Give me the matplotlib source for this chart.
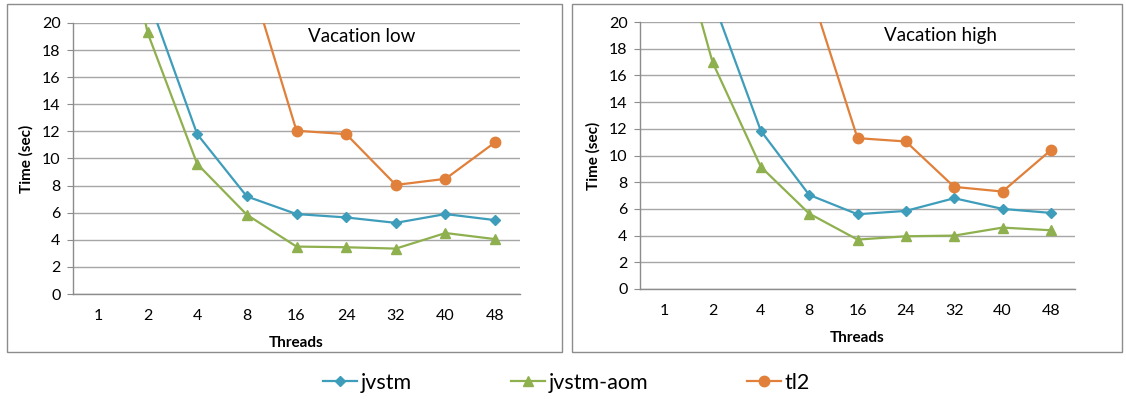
import numpy as np
import matplotlib
matplotlib.use('Agg')
import matplotlib.pyplot as plt
from matplotlib.patches import Rectangle

plt.rcParams['font.family'] = ['Lato', 'DejaVu Sans']

threads = ['1', '2', '4', '8', '16', '24', '32', '40', '48']

# Vacation low (values at 1/2/4 threads above 20 are estimates, clipped off the axis)
low_jvstm = [40.0, 22.0, 11.8, 7.2, 5.9, 5.65, 5.25, 5.9, 5.45]
low_aom = [37.0, 19.3, 9.6, 5.85, 3.5, 3.45, 3.35, 4.5, 4.05]
low_tl2 = [60.0, 45.0, 30.0, 24.1, 12.05, 11.8, 8.05, 8.5, 11.2]

# Vacation high
high_jvstm = [40.0, 21.7, 11.85, 7.05, 5.6, 5.85, 6.8, 6.0, 5.7]
high_aom = [30.0, 17.0, 9.15, 5.65, 3.7, 3.95, 4.0, 4.6, 4.4]
high_tl2 = [60.0, 45.0, 30.0, 22.6, 11.3, 11.05, 7.65, 7.3, 10.4]

c_jvstm = '#3E9DBB'
c_aom = '#8FB04E'
c_tl2 = '#E0803A'

W, H = 1126, 405
fig = plt.figure(figsize=(W / 100, H / 100), dpi=100)


def px(x0, top, x1, bottom):
    return [x0 / W, (H - bottom) / H, (x1 - x0) / W, (bottom - top) / H]


# panel frames like the Excel chart areas
for x0, x1 in [(7, 562), (572, 1122)]:
    fig.patches.append(Rectangle((x0 / W, (H - 352) / H), (x1 - x0) / W, 348 / H,
                                 transform=fig.transFigure, fill=False,
                                 edgecolor='#8C8C8C', linewidth=1.0))


def panel(rect, jv, aom, tl2, title, title_xy):
    ax = fig.add_axes(rect)
    x = np.arange(len(threads))
    ax.plot(x, jv, color=c_jvstm, lw=1.6, marker='D', ms=5, label='jvstm')
    ax.plot(x, aom, color=c_aom, lw=1.6, marker='^', ms=7, label='jvstm-aom')
    ax.plot(x, tl2, color=c_tl2, lw=1.6, marker='o', ms=7.5, label='tl2')
    ax.set_xlim(-0.5, len(threads) - 0.5)
    ax.set_ylim(0, 20)
    ax.set_yticks(range(0, 21, 2))
    ax.set_xticks(x)
    ax.set_xticklabels(threads)
    ax.yaxis.grid(True, color='#A6A6A6', lw=1.0)
    ax.set_axisbelow(True)
    for s in ['top', 'right']:
        ax.spines[s].set_visible(False)
    for s in ['left', 'bottom']:
        ax.spines[s].set_color('#8C8C8C')
        ax.spines[s].set_linewidth(1.0)
    ax.tick_params(axis='y', length=4, color='#8C8C8C', pad=5, labelsize=11.5)
    ax.tick_params(axis='x', length=0, pad=11, labelsize=11.5)
    ax.set_ylabel('Time (sec)', fontweight='bold', fontsize=11, labelpad=6)
    ax.set_xlabel('Threads', fontweight='bold', fontsize=11, labelpad=9)
    fig.text(title_xy[0] / W, 1 - title_xy[1] / H, title, fontsize=13.5,
             ha='center', va='center')
    return ax


ax1 = panel(px(73, 23, 520, 294), low_jvstm, low_aom, low_tl2, 'Vacation low', (362, 36))
ax2 = panel(px(640, 22, 1075, 289), high_jvstm, high_aom, high_tl2, 'Vacation high', (940, 35))

handles, labels = ax1.get_legend_handles_labels()
fig.legend(handles, labels, loc='center', bbox_to_anchor=(0.503, 1 - 383 / H), ncol=3,
           frameon=False, fontsize=15.5, handlelength=1.6, handletextpad=0.15,
           columnspacing=4.6)

fig.savefig('out.png', dpi=100)
